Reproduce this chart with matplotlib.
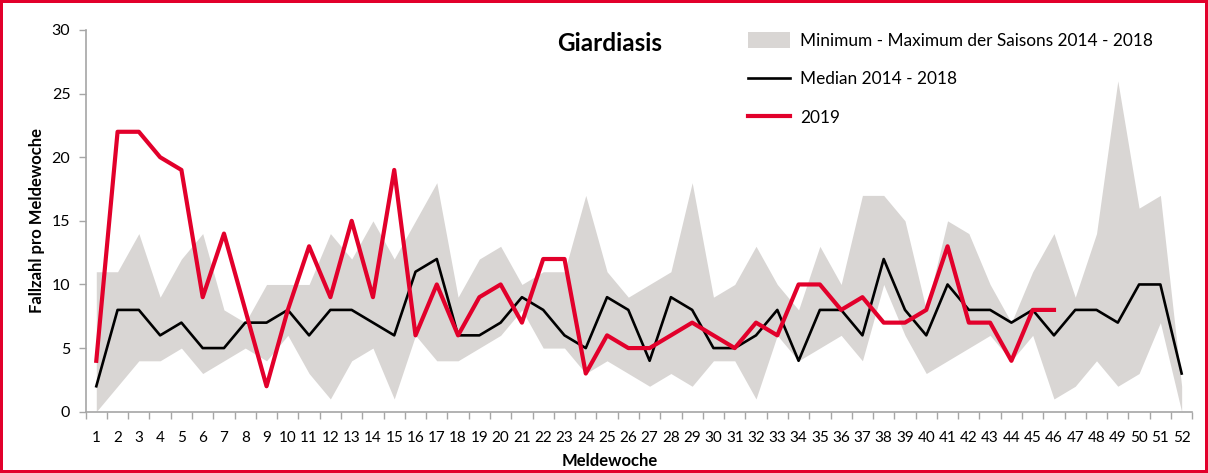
import numpy as np
import matplotlib.pyplot as plt
from matplotlib.patches import Patch
from matplotlib.lines import Line2D

# Meldewochen 1..52
weeks = np.arange(1, 53)

# Minimum / Maximum der Saisons 2014 - 2018
band_min = [0, 2, 4, 4, 5, 3, 4, 5, 4, 6, 3, 1, 4, 5, 1, 6, 4, 4, 5, 6,
            8, 5, 5, 3, 4, 3, 2, 3, 2, 4, 4, 1, 6, 4, 5, 6, 4, 10, 6, 3,
            4, 5, 6, 4, 6, 1, 2, 4, 2, 3, 7, 0]
band_max = [11, 11, 14, 9, 12, 14, 8, 7, 10, 10, 10, 14, 12, 15, 12, 15, 18, 9, 12, 13,
            10, 11, 11, 17, 11, 9, 10, 11, 18, 9, 10, 13, 10, 8, 13, 10, 17, 17, 15, 8,
            15, 14, 10, 7, 11, 14, 9, 14, 26, 16, 17, 2]

# Median 2014 - 2018
median = [2, 8, 8, 6, 7, 5, 5, 7, 7, 8, 6, 8, 8, 7, 6, 11, 12, 6, 6, 7,
          9, 8, 6, 5, 9, 8, 4, 9, 8, 5, 5, 6, 8, 4, 8, 8, 6, 12, 8, 6,
          10, 8, 8, 7, 8, 6, 8, 8, 7, 10, 10, 3]

# 2019 (bis Meldewoche 46)
cases_2019 = [4, 22, 22, 20, 19, 9, 14, 8, 2, 8, 13, 9, 15, 9, 19, 6, 10, 6, 9, 10,
              7, 12, 12, 3, 6, 5, 5, 6, 7, 6, 5, 7, 6, 10, 10, 8, 9, 7, 7, 8,
              13, 7, 7, 4, 8, 8]

red = '#E2002B'
grey_band = '#D9D6D4'
axis_grey = '#A6A6A6'

plt.rcParams['font.family'] = ['Lato', 'DejaVu Sans']

fig = plt.figure(figsize=(12.08, 4.73), dpi=100)
fig.patch.set_edgecolor(red)
fig.patch.set_linewidth(3)
ax = fig.add_axes([0.0709, 0.1296, 0.9161, 0.807])

ax.fill_between(weeks, band_min, band_max, color=grey_band, lw=0)
ax.plot(weeks, median, color='black', lw=1.9)
ax.plot(weeks[:len(cases_2019)], cases_2019, color=red, lw=3)

ax.set_xlim(0.5, 52.5)
ax.set_ylim(0, 30)
ax.set_yticks(range(0, 31, 5))
ax.set_xticks(weeks)
ax.set_xticks(np.arange(0.5, 53, 1), minor=True)
ax.tick_params(axis='x', which='major', length=0, pad=14, labelsize=11)
ax.tick_params(axis='x', which='minor', length=5, color=axis_grey, width=1)
ax.tick_params(axis='y', length=5, color=axis_grey, width=1, pad=6, labelsize=11.5)

for s in ['top', 'right']:
    ax.spines[s].set_visible(False)
for s in ['left', 'bottom']:
    ax.spines[s].set_color(axis_grey)
    ax.spines[s].set_linewidth(1.2)

fig.text(0.505, 0.025, 'Meldewoche', fontsize=12, fontweight='bold', ha='center', va='center')
ax.set_ylabel('Fallzahl pro Meldewoche', fontsize=12, fontweight='bold', labelpad=5)

fig.text(0.505, 0.907, 'Giardiasis', fontsize=17.5, fontweight='bold', ha='center', va='center')

handles = [Patch(facecolor=grey_band, edgecolor='none'),
           Line2D([], [], color='black', lw=1.9),
           Line2D([], [], color=red, lw=3)]
labels = ['Minimum - Maximum der Saisons 2014 - 2018',
          'Median 2014 - 2018',
          '2019']
ax.legend(handles, labels, loc='upper left', bbox_to_anchor=(0.619, 0.932),
          bbox_transform=fig.transFigure, frameon=False, fontsize=12.4,
          borderaxespad=0, borderpad=0,
          handlelength=2.45, handleheight=1.0, handletextpad=0.58, labelspacing=1.28)

fig.savefig('out.png', dpi=100, edgecolor=fig.get_edgecolor())
